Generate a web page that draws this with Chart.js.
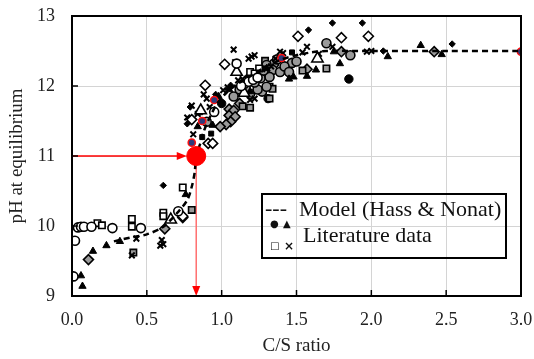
<!DOCTYPE html>
<html><head><meta charset="utf-8">
<script src="https://cdn.jsdelivr.net/npm/chart.js@4/dist/chart.umd.min.js"></script>
<style>html,body{margin:0;padding:0;background:#fff}#wrap{width:534px;height:359px;position:relative}</style>
</head><body><div id="wrap"><canvas id="c" width="534" height="359"></canvas></div>
<script>
// ---- tick labels ----
const xTickLabels = ['0.0','0.5','1.0','1.5','2.0','2.5','3.0'];
const yTickLabels = ['9','10','11','12','13'];
const xTickValues = xTickLabels.map(Number);
const yTickValues = yTickLabels.map(Number);

// ---- model (Hass & Nonat) ----
const modelX = [0.28,0.40,0.50,0.61,0.70,0.77,0.80,0.82,0.83,0.86,0.88,0.92,0.97,1.03,1.10,1.20,1.30,1.40,1.50,1.60,1.70,2.00,2.50,3.00];
const modelY = [9.78,9.84,9.88,9.99,10.18,10.37,10.56,10.77,11.0,11.2,11.35,11.55,11.75,11.9,12.02,12.15,12.28,12.38,12.44,12.48,12.5,12.5,12.5,12.5];

// ---- highlighted point ----
const targetX = [0.83];
const targetY = [11.0];

// ---- literature data, by marker ----
const openCircleX = [0.02,0.01,0.04,0.06,0.08,0.13,0.27,0.46,0.71,0.95,1.10,1.15,1.18,1.21,1.24,1.13];
const openCircleY = [9.79,9.28,9.98,9.99,9.99,9.99,9.97,9.97,10.21,11.63,12.32,12.03,12.06,12.09,12.12,12.0];
const openSquareX = [0.17,0.20,0.40,0.40,0.61,0.61,0.74,1.19,1.25,1.22];
const openSquareY = [10.04,10.01,10.10,9.99,10.19,10.14,10.55,12.2,12.25,12.18];
const openDiamondX = [1.02,0.89,0.80,1.51,1.80,1.98,0.74,0.91,0.94];
const openDiamondY = [12.31,12.01,11.52,12.71,12.69,12.71,10.14,11.18,11.18];
const openTriangleX = [1.64,0.66,1.10,0.86,1.15];
const openTriangleY = [12.39,10.09,12.2,11.65,11.9];
const blackTriangleX = [0.06,0.07,0.14,0.23,0.32,0.76,2.33,2.47,2.11,1.79,1.63,1.57,1.48,1.45,1.75,0.94,0.84,1.19,1.05,0.85,1.30,0.98,1.13];
const blackTriangleY = [9.29,9.14,9.64,9.72,9.78,10.45,12.58,12.45,12.42,12.32,12.23,12.14,12.13,12.10,12.49,11.44,11.42,11.92,11.95,11.62,12.25,11.85,12.03];
const blackDiamondX = [1.74,1.94,1.58,2.54,2.08,0.61,0.77,0.79,1.06,1.17,0.96];
const blackDiamondY = [12.9,12.9,12.8,12.6,12.5,10.58,11.46,11.7,12.01,12.13,11.88];
const crossX = [1.08,0.81,0.88,0.80,0.59,0.61,0.60,0.40,0.43,1.18,1.20,1.22,1.39,1.41,1.54,1.57,1.65,1.74,1.97,2.0,1.19,1.22,0.77,1.36,1.01,1.11,1.24,0.90,1.09,1.04,1.14,0.84,0.92,1.27,1.33];
const crossY = [12.52,11.31,11.88,11.72,9.72,9.74,9.80,9.58,9.82,12.39,12.42,12.44,12.49,12.47,12.48,12.56,12.46,12.56,12.49,12.5,11.8,11.82,11.55,12.39,11.94,12.08,12.19,11.82,12.34,11.98,12.1,11.6,11.7,12.24,12.28];
const grayCircleX = [1.70,1.86,1.35,1.34,1.47,1.30,1.29,1.26,1.27,1.19,1.24,1.30,1.39,0.90,1.37,1.42,1.32,1.16,1.12,1.22,1.45,1.50,1.08,1.28];
const grayCircleY = [12.61,12.44,12.32,12.23,12.33,12.3,12.18,12.11,11.92,11.89,11.95,11.99,12.2,11.49,12.38,12.28,12.13,11.98,11.95,12.05,12.2,12.35,11.85,12.22];
const graySquareX = [1.14,1.19,1.32,1.54,1.70,1.34,1.32,0.41,0.80,1.29];
const graySquareY = [11.71,11.69,11.99,12.22,12.25,11.96,11.82,9.62,10.23,12.36];
const grayDiamondX = [1.05,1.08,1.05,1.09,1.06,1.03,1.41,1.57,1.80,2.42,0.11,0.62,0.74,1.12,0.99];
const grayDiamondY = [11.67,11.65,11.58,11.56,11.49,11.45,12.23,12.24,12.49,12.49,9.52,9.96,10.12,11.75,11.42];
const blackCircleX = [1.85,1.31,1.00];
const blackCircleY = [12.10,11.82,11.75];
const blackSquareX = [1.47,0.87,0.93];
const blackSquareY = [12.48,11.27,11.32];
const redRingX = [0.80,0.87,0.95,1.40,3.0];
const redRingY = [11.19,11.5,11.8,12.4,12.49];

const pts = (xs, ys) => xs.map((v, i) => ({x: v, y: ys[i]}));
const serif = 'Liberation Serif';
const GRAY = '#9a9a9a';

function sc(label, xs, ys, style, bg, border, r, bw, order) {
  return {type:'scatter', label, data: pts(xs, ys), pointStyle: style, backgroundColor: bg,
    borderColor: border, pointRadius: r, pointBorderWidth: bw, pointHoverRadius: r, order: order || 3};
}

const datasets = [
  {type:'scatter', label:'target', data: pts(targetX, targetY), pointStyle:'circle', backgroundColor:'#ff0000', borderColor:'#ff0000', pointRadius:9.5, order:0},
  {type:'line', label:'Model (Hass & Nonat)', data: pts(modelX, modelY), borderColor:'#000', borderWidth:2.5, borderDash:[6,4], pointRadius:0, fill:false, tension:0.3, order:1},
  sc('redRing', redRingX, redRingY, 'circle', '#2e3a7a', '#ff1010', 3.6, 1.5, 2),
  sc('openCircle', openCircleX, openCircleY, 'circle', '#fff', '#000', 4.5, 1.6),
  sc('openSquare', openSquareX, openSquareY, 'rect', '#fff', '#000', 4.5, 1.6),
  sc('openDiamond', openDiamondX, openDiamondY, 'rectRot', '#fff', '#000', 5, 1.6),
  sc('openTriangle', openTriangleX, openTriangleY, 'triangle', '#fff', '#000', 6.5, 1.6),
  sc('blackTriangle', blackTriangleX, blackTriangleY, 'triangle', '#000', '#000', 4.2, 1),
  sc('blackDiamond', blackDiamondX, blackDiamondY, 'rectRot', '#000', '#000', 3.2, 1),
  sc('cross', crossX, crossY, 'crossRot', '#000', '#000', 4, 2),
  sc('grayCircle', grayCircleX, grayCircleY, 'circle', GRAY, '#000', 4.5, 1.6),
  sc('graySquare', graySquareX, graySquareY, 'rect', GRAY, '#000', 4.5, 1.6),
  sc('grayDiamond', grayDiamondX, grayDiamondY, 'rectRot', GRAY, '#000', 5, 1.6),
  sc('blackCircle', blackCircleX, blackCircleY, 'circle', '#000', '#000', 4.2, 1),
  sc('blackSquare', blackSquareX, blackSquareY, 'rect', '#000', '#000', 3.5, 1)
];

const overlay = {
  id: 'overlay',
  beforeDatasetsDraw(chart) {
    const {ctx, chartArea: a, scales: {x, y}} = chart;
    const px = x.getPixelForValue(targetX[0]);
    const py = y.getPixelForValue(targetY[0]);
    ctx.save();
    ctx.strokeStyle = '#ff0000'; ctx.fillStyle = '#ff0000'; ctx.lineWidth = 1.5;
    const hx = px - 9.5;
    ctx.beginPath(); ctx.moveTo(a.left, py); ctx.lineTo(hx - 8, py); ctx.stroke();
    ctx.beginPath(); ctx.moveTo(hx, py); ctx.lineTo(hx - 10, py - 4); ctx.lineTo(hx - 10, py + 4); ctx.closePath(); ctx.fill();
    ctx.strokeStyle = '#ff6f6f';
    ctx.beginPath(); ctx.moveTo(px, py); ctx.lineTo(px, a.bottom - 8); ctx.stroke();
    ctx.fillStyle = '#ff0000';
    ctx.beginPath(); ctx.moveTo(px, a.bottom); ctx.lineTo(px - 4, a.bottom - 10); ctx.lineTo(px + 4, a.bottom - 10); ctx.closePath(); ctx.fill();
    ctx.restore();
  },
  afterDraw(chart) {
    const {ctx, chartArea: a, scales: {x, y}} = chart;
    ctx.save();
    ctx.strokeStyle = '#000'; ctx.lineWidth = 1.5;
    xTickValues.forEach(v => { const p = x.getPixelForValue(v); ctx.beginPath(); ctx.moveTo(p, a.bottom); ctx.lineTo(p, a.bottom - 6); ctx.stroke(); });
    yTickValues.forEach(v => { const p = y.getPixelForValue(v); ctx.beginPath(); ctx.moveTo(a.left, p); ctx.lineTo(a.left + 6, p); ctx.stroke(); });
    ctx.lineWidth = 2;
    ctx.strokeRect(a.left, a.top, a.right - a.left, a.bottom - a.top);
    const lx = 262, ly = 194, lw = 244, lh = 64;
    ctx.lineWidth = 2; ctx.strokeStyle = '#000';
    ctx.strokeRect(lx, ly, lw, lh);
    ctx.fillStyle = '#111';
    ctx.textBaseline = 'alphabetic'; ctx.textAlign = 'left';
    ctx.font = '22px "' + serif + '"';
    ctx.fillText('Model (Hass & Nonat)', 299, 216);
    ctx.fillText('Literature data', 303, 242);
    ctx.fillText('---', 265, 215);
    ctx.font = '10px "DejaVu Sans"';
    ctx.fillText('\u25CF', 270, 227);
    ctx.fillText('\u25B2', 283, 227);
    ctx.fillText('\u25A1', 270, 249);
    ctx.font = 'bold 12px "DejaVu Sans"';
    ctx.fillText('\u00D7', 284, 250);
    ctx.restore();
  }
};

new Chart(document.getElementById('c'), {
  data: {datasets},
  options: {
    responsive: false, animation: false, devicePixelRatio: 1,
    layout: {padding: {left: 0, right: 13, top: 16, bottom: 0}},
    plugins: {legend: {display: false}, tooltip: {enabled: false}},
    scales: {
      x: {type: 'linear', min: 0, max: 3,
        afterBuildTicks: s => { s.ticks = xTickValues.map(v => ({value: v})); },
        afterFit: s => { s.height = 63; },
        ticks: {callback: (v) => xTickLabels[xTickValues.indexOf(v)], font: {family: serif, size: 18}, color: '#222', padding: 0, maxRotation: 0, autoSkip: false},
        grid: {color: '#d4d4d4', lineWidth: 1, drawTicks: true, tickLength: 13, tickColor: 'rgba(0,0,0,0)'},
        border: {display: false},
        title: {display: true, text: 'C/S ratio', font: {family: serif, size: 19}, color: '#222', padding: {top: 0, bottom: 2}}
      },
      y: {type: 'linear', min: 9, max: 13,
        afterBuildTicks: s => { s.ticks = yTickValues.map(v => ({value: v})); },
        afterFit: s => { s.width = 72; },
        ticks: {callback: (v) => yTickLabels[yTickValues.indexOf(v)], font: {family: serif, size: 18}, color: '#222', padding: 0, autoSkip: false},
        grid: {color: '#d4d4d4', lineWidth: 1, drawTicks: true, tickLength: 17, tickColor: 'rgba(0,0,0,0)'},
        border: {display: false},
        title: {display: true, text: 'pH at equilibrium', font: {family: serif, size: 19}, color: '#222', padding: {top: 6, bottom: 0}}
      }
    }
  },
  plugins: [overlay]
});
</script>
</body></html>
